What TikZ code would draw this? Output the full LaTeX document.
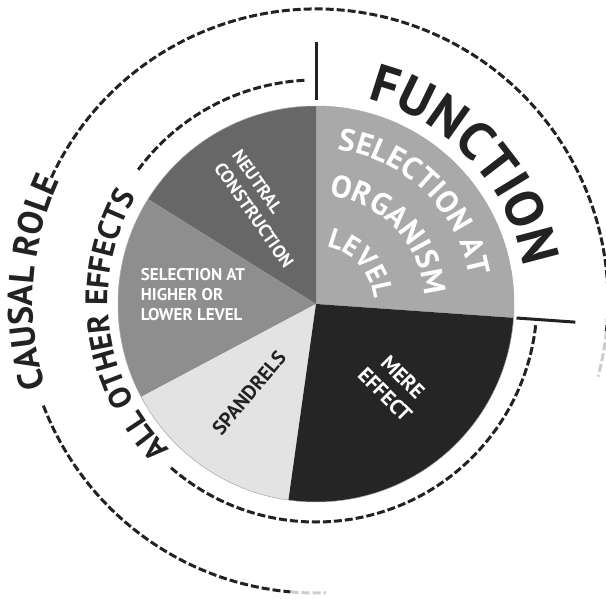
\documentclass[tikz,border=0pt]{standalone}
\usepackage{fontspec}
\setmainfont{PT Sans}
\usepackage{xcolor}
\usetikzlibrary{decorations.text}

\definecolor{organismgray}{HTML}{A9A9A9}
\definecolor{neutralgray}{HTML}{676767}
\definecolor{highergray}{HTML}{8E8E8E}
\definecolor{spandrelgray}{HTML}{E3E3E3}
\definecolor{meregray}{HTML}{252525}
\definecolor{ink}{HTML}{222222}

\begin{document}
\begin{tikzpicture}[x=1pt,y=1pt,
    ringline/.style={ink, line width=3pt, dash pattern=on 8pt off 3pt},
    fadeline/.style={ringline, black!20},
    tickline/.style={ink, line width=3pt},
    piecelabel/.style={font=\bfseries\fontsize{18}{22}\selectfont, inner sep=0pt},
    curved/.style={decorate, decoration={text along path, text color=#1}},
    fitted/.style={decoration={text align=fit to path}},
    centred/.style={decoration={text align=center}}]

	% Fix the page size
	\useasboundingbox (0,0) rectangle (606,598);
	\coordinate (O) at (316,294);
	\coordinate (C) at (316,297);

	% Draw the slices of the pie
	\begin{scope}[shift={(O)}]
		\fill[organismgray] (0,0) -- (-4:198) arc[start angle=-4, end angle=90, radius=198] -- cycle;
		\fill[neutralgray] (0,0) -- (90:198) arc[start angle=90, end angle=148, radius=198] -- cycle;
		\fill[highergray] (0,0) -- (148:198) arc[start angle=148, end angle=208, radius=198] -- cycle;
		\fill[spandrelgray] (0,0) -- (208:198) arc[start angle=208, end angle=262, radius=198] -- cycle;
		\fill[meregray] (0,0) -- (262:198) arc[start angle=262, end angle=356, radius=198] -- cycle;
		\draw[black!35, line width=0.5pt] (0,0) circle (198);

		% Draw the two ticks
		\draw[tickline] (90:204) -- (90:262);
		\draw[tickline] (-4:201) -- (-4:260);

		% Curved labels inside and next to the pie
		\path[curved=ink, fitted, decoration={text={|\bfseries\fontsize{53}{53}\selectfont|FUNCTION}}]
			(76:211) arc[start angle=76, end angle=10, radius=211];
		\path[curved=white, fitted, decoration={text={|\bfseries\fontsize{31}{31}\selectfont|SELECTION AT}}]
			(82:156) arc[start angle=82, end angle=10, radius=156];
		\path[curved=white, fitted, decoration={text={|\bfseries\fontsize{31}{31}\selectfont|ORGANISM}}]
			(83:109) arc[start angle=83, end angle=4.5, radius=109];
		\path[curved=white, centred, decoration={text={|\bfseries\fontsize{28}{28}\selectfont|LEVEL}}]
			(105:58) arc[start angle=105, end angle=-20, radius=58];
	\end{scope}

	% Draw the dashed rings
	\begin{scope}[shift={(C)}]
		\draw[ringline] (93:221) arc[start angle=93, end angle=144, radius=221];
		\draw[ringline] (229:221) arc[start angle=229, end angle=354, radius=221];
		\draw[ringline] (155:292) arc[start angle=155, end angle=-6, radius=292];
		\draw[fadeline] (-6:292) arc[start angle=-6, end angle=-15, radius=292];
		\draw[ringline] (201:292) arc[start angle=201, end angle=265, radius=292];
		\draw[fadeline] (265:292) arc[start angle=265, end angle=272, radius=292];

		% Curved labels on the rings
		\path[curved=ink, fitted, decoration={text={|\bfseries\fontsize{35}{35}\selectfont|CAUSAL ROLE}}]
			(197.5:283) arc[start angle=197.5, end angle=156, radius=283];
		\path[curved=ink, centred, decoration={text={|\bfseries\fontsize{31}{31}\selectfont|ALL OTHER EFFECTS}}]
			(250:208) arc[start angle=250, end angle=125, radius=208];
	\end{scope}

	% Straight labels of the slices
	\node[piecelabel, white, align=left, rotate=-55] (neutral) at (263,389) {NEUTRAL\\CONSTRUCTION};
	\node[piecelabel, white, align=left, font=\bfseries\fontsize{17}{20}\selectfont] (higher) at (193,303) {SELECTION AT\\HIGHER OR\\LOWER LEVEL};
	\node[piecelabel, ink, rotate=50, font=\bfseries\fontsize{20}{22}\selectfont] (spandrels) at (249,205) {SPANDRELS};
	\node[piecelabel, white, align=center, rotate=-45, font=\bfseries\fontsize{21}{25}\selectfont] (mere) at (394,212) {MERE\\EFFECT};
\end{tikzpicture}
\end{document}
